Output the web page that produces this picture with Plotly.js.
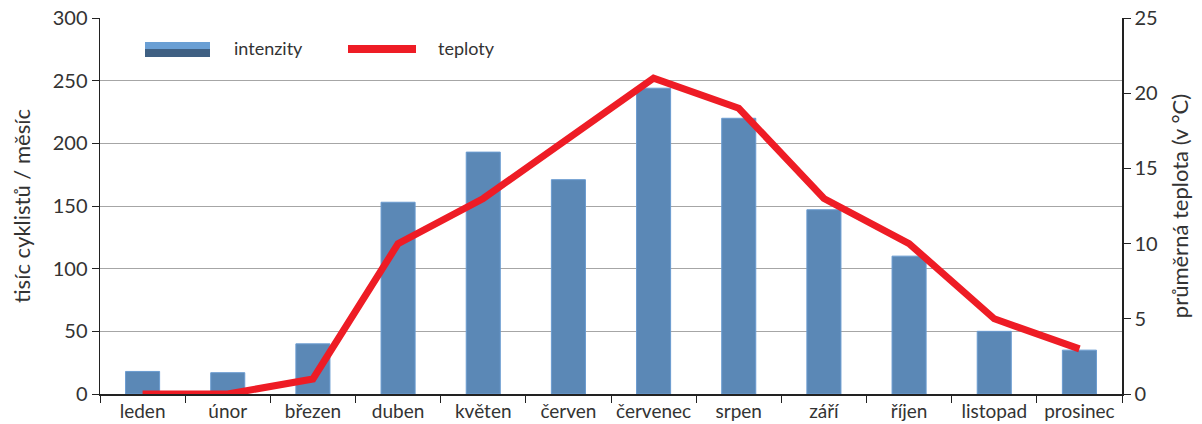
<!DOCTYPE html>
<html>
<head>
<meta charset="utf-8">
<script src="https://cdn.plot.ly/plotly-3.0.1.min.js"></script>
<style>html,body{margin:0;padding:0;background:#fff;}#chart{width:1202px;height:424px;}</style>
</head>
<body>
<div id="chart"></div>
<script>
const months = ['leden','únor','březen','duben','květen','červen','červenec','srpen','září','říjen','listopad','prosinec'];
const intenzity = [18, 17, 40, 153, 193, 171, 244, 220, 147, 110, 50, 35];
const teploty = [0, 0, 1, 10, 13, 17, 21, 19, 13, 10, 5, 3];
const seriesNames = ['intenzity', 'teploty'];

const fontFam = 'Lato, Open Sans, sans-serif';
const M = {l: 100, r: 80, t: 18, b: 30}, W = 1202, H = 424;
const px = v => (v - M.l) / (W - M.l - M.r);
const py = v => (H - M.b - v) / (H - M.t - M.b);

const traces = [
  {
    type: 'bar', name: seriesNames[0], x: months, y: intenzity,
    marker: {color: '#5b88b6', line: {color: '#6a9bd0', width: 1}},
    width: 0.4
  },
  {
    type: 'scatter', mode: 'lines', name: seriesNames[1], x: months, y: teploty, yaxis: 'y2',
    line: {color: '#ee1c25', width: 7}
  }
];
const layout = {
  width: W, height: H,
  margin: M,
  paper_bgcolor: '#fff', plot_bgcolor: '#fff',
  font: {family: fontFam, size: 19, color: '#333'},
  showlegend: false,
  bargap: 0.6,
  xaxis: {
    type: 'category', showline: true, linecolor: '#222', linewidth: 1.5,
    ticks: 'outside', tickson: 'boundaries', ticklen: 7, tickcolor: '#222',
    tickfont: {size: 19, color: '#333'}, showgrid: false, zeroline: false
  },
  yaxis: {
    range: [0, 300], dtick: 50, showline: true, linecolor: '#222', linewidth: 1.5,
    ticks: 'outside', ticklen: 7, tickcolor: '#222',
    showgrid: true, gridcolor: '#a6a6a6', gridwidth: 1, zeroline: false,
    tickfont: {size: 20, color: '#333'},
    title: {text: 'tisíc cyklistů / měsíc', font: {size: 22, color: '#333'}, standoff: 16}
  },
  yaxis2: {
    range: [0, 25], dtick: 5, overlaying: 'y', side: 'right',
    showline: true, linecolor: '#222', linewidth: 1.5,
    ticks: 'outside', ticklen: 7, tickcolor: '#222',
    showgrid: false, zeroline: false,
    tickfont: {size: 20, color: '#333'},
    title: {text: 'průměrná teplota (v °C)', font: {size: 22, color: '#333'}, standoff: 16}
  },
  shapes: [
    {type: 'rect', xref: 'paper', yref: 'paper', x0: px(145), x1: px(210), y0: py(49), y1: py(42),
     fillcolor: '#6a9fd4', line: {width: 0}},
    {type: 'rect', xref: 'paper', yref: 'paper', x0: px(145), x1: px(210), y0: py(57), y1: py(49),
     fillcolor: '#3f6083', line: {width: 0}},
    {type: 'line', xref: 'paper', yref: 'paper', x0: px(348), x1: px(416), y0: py(49), y1: py(49),
     line: {color: '#ee1c25', width: 8}}
  ],
  annotations: [
    {xref: 'paper', yref: 'paper', x: px(232), y: py(48), xanchor: 'left', yanchor: 'middle',
     text: seriesNames[0], showarrow: false, font: {size: 18, color: '#333'}},
    {xref: 'paper', yref: 'paper', x: px(436), y: py(48), xanchor: 'left', yanchor: 'middle',
     text: seriesNames[1], showarrow: false, font: {size: 18, color: '#333'}}
  ]
};
Plotly.newPlot('chart', traces, layout, {displayModeBar: false, staticPlot: true});
</script>
</body>
</html>
